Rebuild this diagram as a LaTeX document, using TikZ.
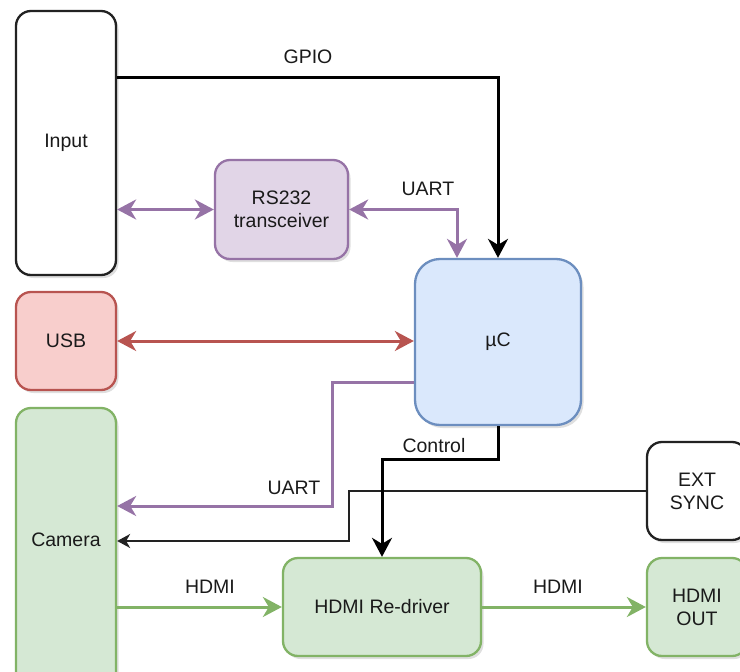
\documentclass[tikz,border=0pt]{standalone}
\usepackage{fontspec}
\setmainfont{Liberation Sans}
\usetikzlibrary{arrows.meta,shadows,calc}
\definecolor{txt}{HTML}{1A1A1A}
\definecolor{pfill}{HTML}{E1D5E7}\definecolor{pline}{HTML}{9673A6}
\definecolor{bfill}{HTML}{DAE8FC}\definecolor{bline}{HTML}{6C8EBF}
\definecolor{rfill}{HTML}{F8CECC}\definecolor{rline}{HTML}{B85450}
\definecolor{gfill}{HTML}{D5E8D4}\definecolor{gline}{HTML}{82B366}
\definecolor{kline}{HTML}{222222}
\tikzset{
  bigtip/.tip={Stealth[length=19pt, width=20pt, inset=6pt]},
  smtip/.tip={Stealth[length=13pt, width=14pt, inset=4pt]},
  blk/.style={draw, line width=2.3pt, rounded corners=15pt, align=center, text=txt,
    font=\fontsize{19.5pt}{23pt}\selectfont, inner sep=0pt,
    drop shadow={opacity=0.25, shadow xshift=2.5pt, shadow yshift=-3pt}},
  whitebox/.style={blk, draw=kline, fill=white},
  purplebox/.style={blk, draw=pline, fill=pfill},
  bluebox/.style={blk, draw=bline, fill=bfill},
  redbox/.style={blk, draw=rline, fill=rfill},
  greenbox/.style={blk, draw=gline, fill=gfill},
  conn/.style={line width=3pt},
  blackconn/.style={conn, draw=black, -{bigtip}},
  purpleconn/.style={conn, draw=pline, {bigtip}-{bigtip}},
  purpleone/.style={conn, draw=pline, -{bigtip}},
  redconn/.style={conn, draw=rline, {bigtip}-{bigtip}},
  greenconn/.style={conn, draw=gline, -{bigtip}},
  thinconn/.style={line width=1.5pt, draw=kline, -{smtip}},
  lbl/.style={text=txt, font=\fontsize{19.5pt}{23pt}\selectfont, inner sep=0pt},
}
\begin{document}
\begin{tikzpicture}[x=1pt, y=-1pt]
\useasboundingbox (0,0) rectangle (740,672);
\clip (0,0) rectangle (740,672);
% blocks
\node[whitebox, minimum width=100pt, minimum height=264pt] (input) at (66,143) {Input};
\node[purplebox, minimum width=133pt, minimum height=99pt] (rs) at (281.5,209.5) {RS232\\transceiver};
\node[bluebox, rounded corners=25pt, minimum width=166pt, minimum height=166pt] (mc) at (498,342) {µC};
\node[redbox, minimum width=100pt, minimum height=98pt] (usb) at (66,341) {USB};
\node[greenbox, minimum width=100pt, minimum height=300pt,
      label={[lbl, yshift=18pt]center:Camera}] (cam) at (66,558) {};
\node[whitebox, minimum width=100pt, minimum height=98pt] (ext) at (697,491) {EXT\\SYNC};
\node[greenbox, minimum width=198pt, minimum height=98pt] (red) at (382,607) {HDMI Re-driver};
\node[greenbox, minimum width=100pt, minimum height=98pt] (out) at (697,607) {HDMI\\OUT};
% connectors
\draw[blackconn] ([yshift=66pt]input.east) -| (mc.north);
\draw[purpleconn] (rs.west -| input.east) -- (rs.west);
\draw[purpleconn] (rs.east) -| ([xshift=-41pt]mc.north);
\draw[redconn] (usb.east) -- (usb.east -| mc.west);
\draw[purpleone] ([yshift=-40pt]mc.west) -- (332,382) |- ([yshift=52pt]cam.east);
\draw[thinconn] (ext.west) -- (349,491) |- ([yshift=17pt]cam.east);
\draw[blackconn] (mc.south) -- (498,459) -| (red.north);
\draw[greenconn] ([yshift=-49pt]cam.east) -- (red.west);
\draw[greenconn] (red.east) -- (out.west);
% labels
\node[lbl] (lgpio) at (308,57) {GPIO};
\node[lbl] (luart1) at (428,189) {UART};
\node[lbl] (luart2) at (294,488) {UART};
\node[lbl] (lctrl) at (434,446) {Control};
\node[lbl] (lhdmi1) at (210,587) {HDMI};
\node[lbl] (lhdmi2) at (558,587) {HDMI};
\end{tikzpicture}
\end{document}
